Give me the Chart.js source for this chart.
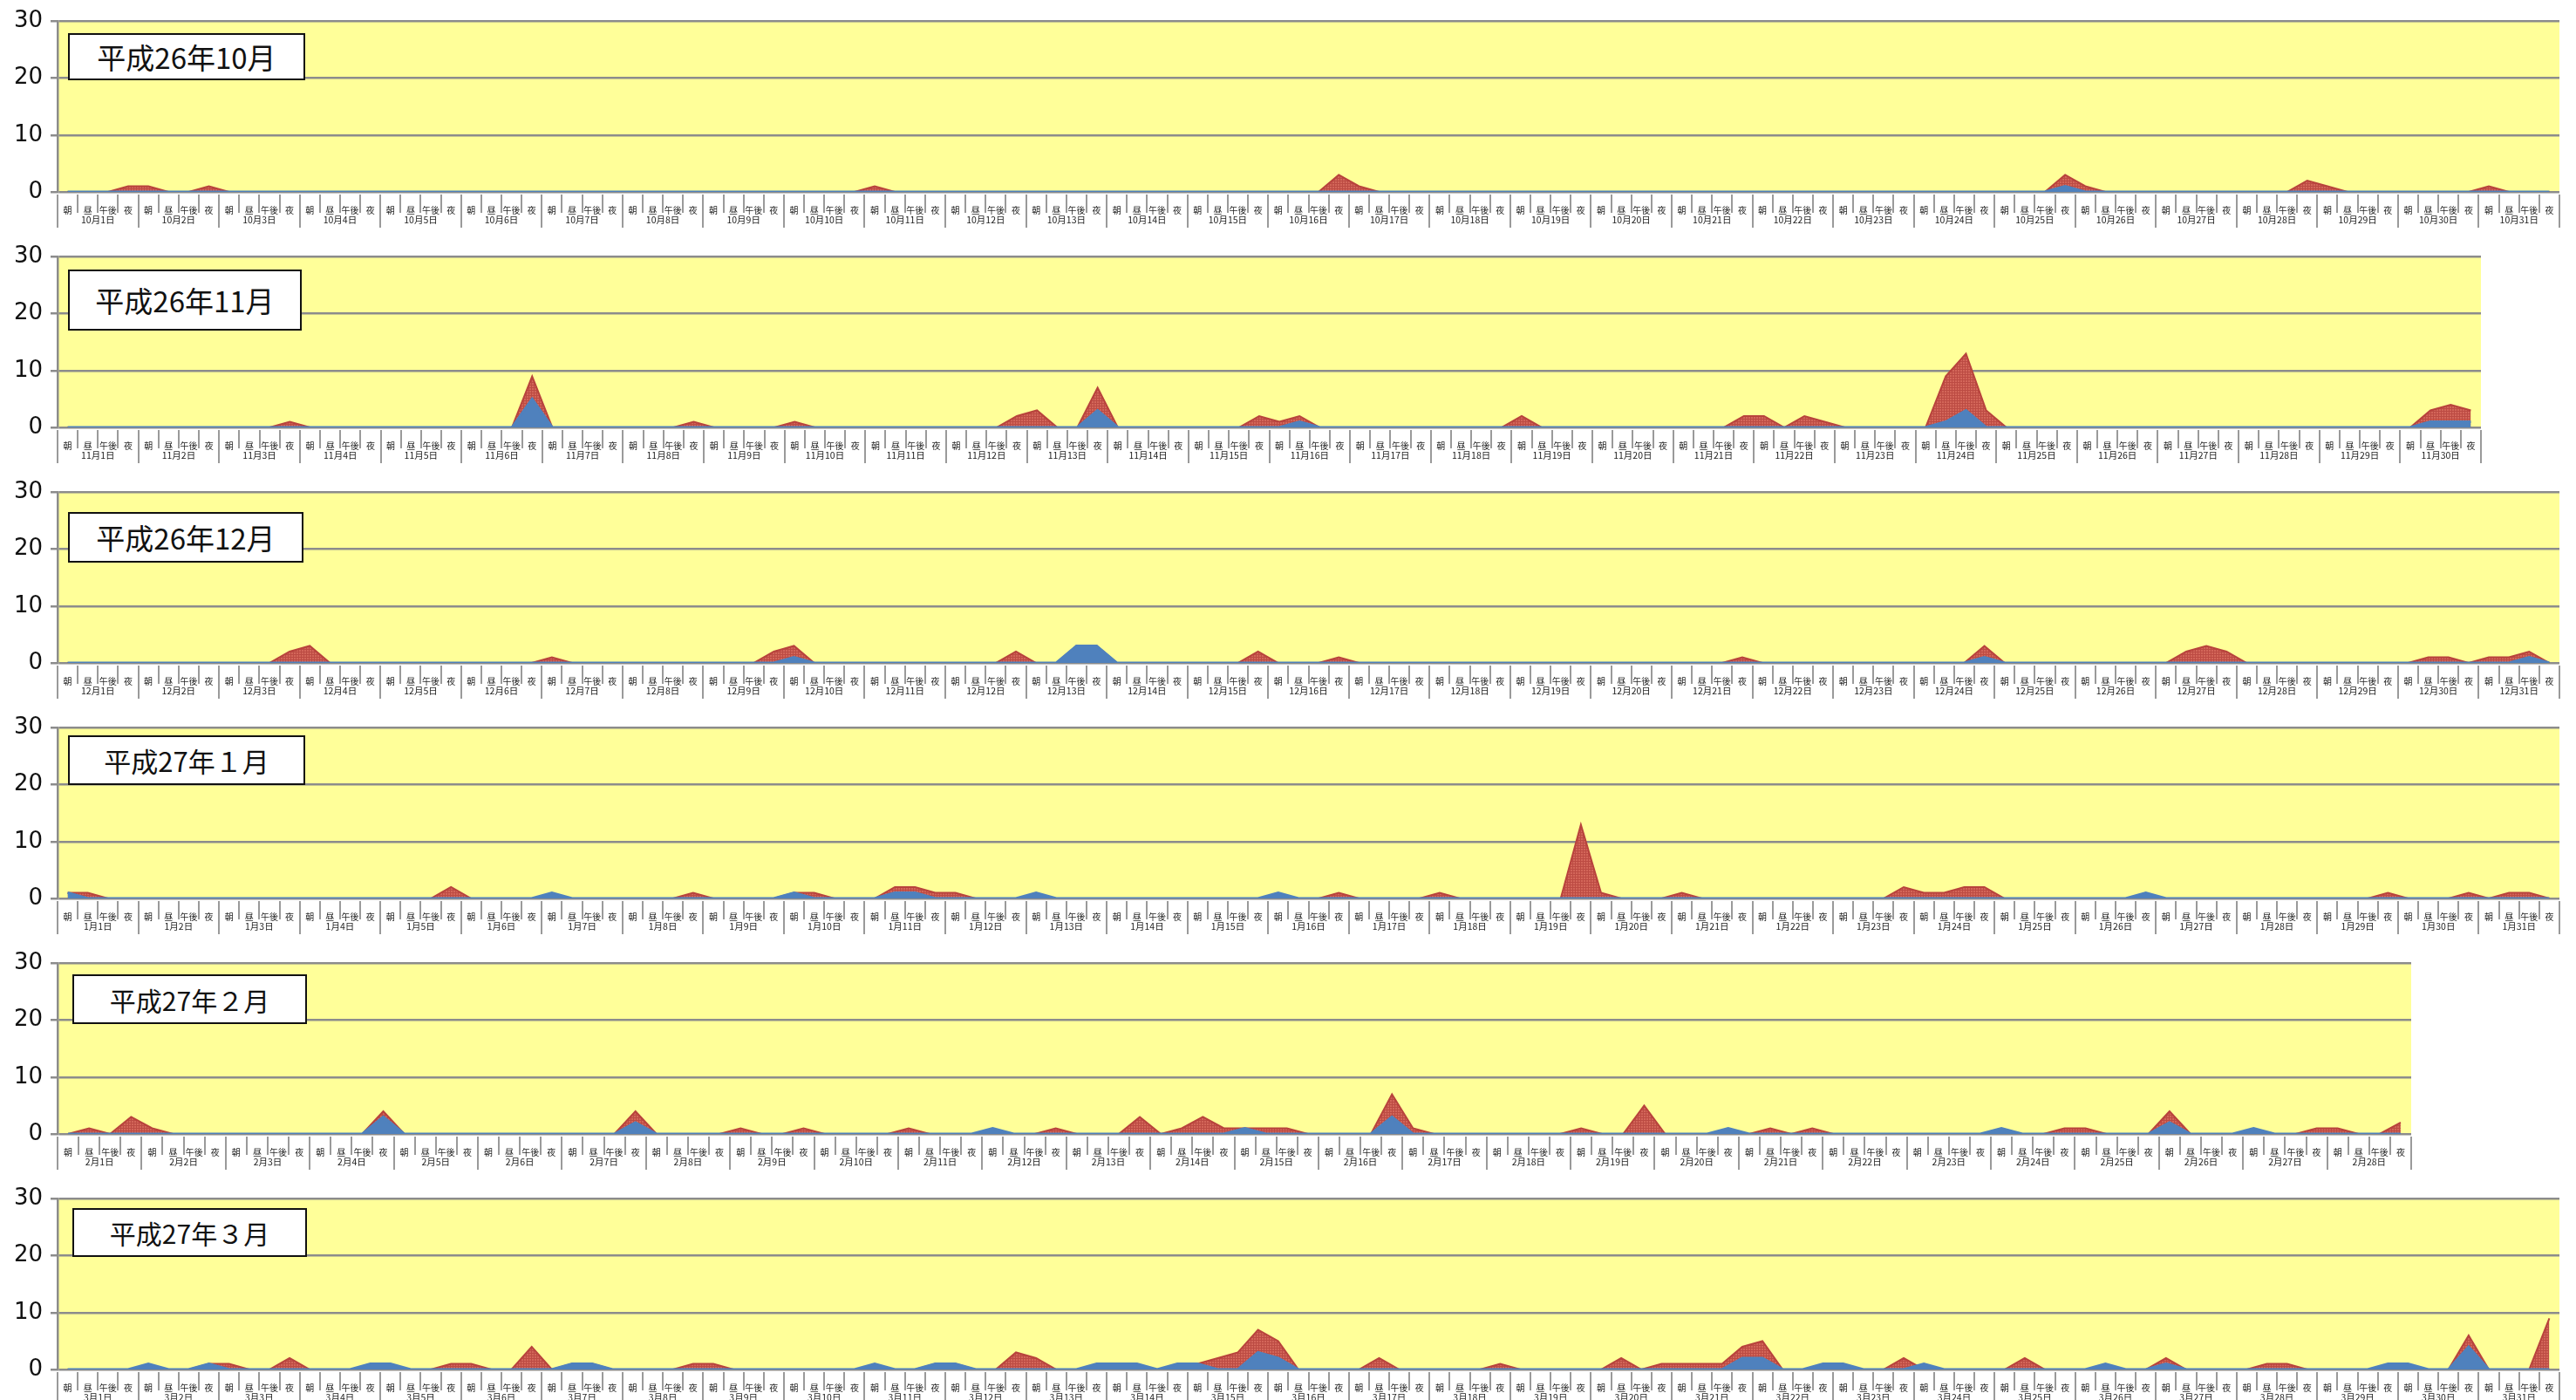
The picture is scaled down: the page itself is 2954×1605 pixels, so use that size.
<!DOCTYPE html>
<html>
<head>
<meta charset="utf-8">
<script src="https://cdn.jsdelivr.net/npm/chart.js@4.4.1/dist/chart.umd.min.js"></script>
<style>
body { margin: 0; background: #fff; width: 2954px; height: 1605px; position: relative; overflow: hidden; font-family: "Noto Sans CJK JP", sans-serif; }
canvas { position: absolute; left: 0; }
.title { position: absolute; background: #fff; border: 2px solid #111; box-sizing: border-box; display: flex; align-items: center; justify-content: center; color: #111; }
</style>
</head>
<body>
<script>
const slotNames = ['朝', '昼', '午後', '夜'];
const monthTitles = ['平成26年10月', '平成26年11月', '平成26年12月', '平成27年１月', '平成27年２月', '平成27年３月'];
const monthNums = [10, 11, 12, 1, 2, 3];
const dayCounts = [31, 30, 31, 31, 28, 31];
const yTicks = [0, 10, 20, 30];

// 朝,昼,午後,夜 per day
const octRed = [
    0,0,0,1, 1,0,0,1, 0,0,0,0, 0,0,0,0,
    0,0,0,0, 0,0,0,0, 0,0,0,0, 0,0,0,0,
    0,0,0,0, 0,0,0,0, 1,0,0,0, 0,0,0,0,
    0,0,0,0, 0,0,0,0, 0,0,0,0, 0,0,0,3,
    1,0,0,0, 0,0,0,0, 0,0,0,0, 0,0,0,0,
    0,0,0,0, 0,0,0,0, 0,0,0,0, 0,0,0,0,
    0,0,0,3, 1,0,0,0, 0,0,0,0, 0,0,0,2,
    1,0,0,0, 0,0,0,0, 1,0,0,0
];
const octBlue = [
    0,0,0,0, 0,0,0,0, 0,0,0,0, 0,0,0,0,
    0,0,0,0, 0,0,0,0, 0,0,0,0, 0,0,0,0,
    0,0,0,0, 0,0,0,0, 0,0,0,0, 0,0,0,0,
    0,0,0,0, 0,0,0,0, 0,0,0,0, 0,0,0,0,
    0,0,0,0, 0,0,0,0, 0,0,0,0, 0,0,0,0,
    0,0,0,0, 0,0,0,0, 0,0,0,0, 0,0,0,0,
    0,0,0,1, 0,0,0,0, 0,0,0,0, 0,0,0,0,
    0,0,0,0, 0,0,0,0, 0,0,0,0
];
const novRed = [
    0,0,0,0, 0,0,0,0, 0,0,0,1, 0,0,0,0,
    0,0,0,0, 0,0,0,9, 0,0,0,0, 0,0,0,1,
    0,0,0,0, 1,0,0,0, 0,0,0,0, 0,0,0,2,
    3,0,0,7, 0,0,0,0, 0,0,0,2, 1,2,0,0,
    0,0,0,0, 0,0,0,0, 2,0,0,0, 0,0,0,0,
    0,0,0,2, 2,0,2,1, 0,0,0,0, 0,9,13,3,
    0,0,0,0, 0,0,0,0, 0,0,0,0, 0,0,0,0,
    0,0,0,0, 0,3,4,3
];
const novBlue = [
    0,0,0,0, 0,0,0,0, 0,0,0,0, 0,0,0,0,
    0,0,0,0, 0,0,0,5, 0,0,0,0, 0,0,0,0,
    0,0,0,0, 0,0,0,0, 0,0,0,0, 0,0,0,0,
    0,0,0,3, 0,0,0,0, 0,0,0,0, 0,1,0,0,
    0,0,0,0, 0,0,0,0, 0,0,0,0, 0,0,0,0,
    0,0,0,0, 0,0,0,0, 0,0,0,0, 0,1,3,0,
    0,0,0,0, 0,0,0,0, 0,0,0,0, 0,0,0,0,
    0,0,0,0, 0,1,1,1
];
const decRed = [
    0,0,0,0, 0,0,0,0, 0,0,0,2, 3,0,0,0,
    0,0,0,0, 0,0,0,0, 1,0,0,0, 0,0,0,0,
    0,0,0,2, 3,0,0,0, 0,0,0,0, 0,0,0,2,
    0,0,3,3, 0,0,0,0, 0,0,0,2, 0,0,0,1,
    0,0,0,0, 0,0,0,0, 0,0,0,0, 0,0,0,0,
    0,0,0,1, 0,0,0,0, 0,0,0,0, 0,0,0,3,
    0,0,0,0, 0,0,0,0, 0,2,3,2, 0,0,0,0,
    0,0,0,0, 0,1,1,0, 1,1,2,0
];
const decBlue = [
    0,0,0,0, 0,0,0,0, 0,0,0,0, 0,0,0,0,
    0,0,0,0, 0,0,0,0, 0,0,0,0, 0,0,0,0,
    0,0,0,0, 1,0,0,0, 0,0,0,0, 0,0,0,0,
    0,0,3,3, 0,0,0,0, 0,0,0,0, 0,0,0,0,
    0,0,0,0, 0,0,0,0, 0,0,0,0, 0,0,0,0,
    0,0,0,0, 0,0,0,0, 0,0,0,0, 0,0,0,1,
    0,0,0,0, 0,0,0,0, 0,0,0,0, 0,0,0,0,
    0,0,0,0, 0,0,0,0, 0,0,1,0
];
const janRed = [
    1,1,0,0, 0,0,0,0, 0,0,0,0, 0,0,0,0,
    0,0,0,2, 0,0,0,0, 0,0,0,0, 0,0,0,1,
    0,0,0,0, 1,1,0,0, 0,2,2,1, 1,0,0,0,
    0,0,0,0, 0,0,0,0, 0,0,0,0, 0,0,0,1,
    0,0,0,0, 1,0,0,0, 0,0,0,13, 1,0,0,0,
    1,0,0,0, 0,0,0,0, 0,0,0,2, 1,1,2,2,
    0,0,0,0, 0,0,0,0, 0,0,0,0, 0,0,0,0,
    0,0,0,1, 0,0,0,1, 0,1,1,0
];
const janBlue = [
    1,0,0,0, 0,0,0,0, 0,0,0,0, 0,0,0,0,
    0,0,0,0, 0,0,0,0, 1,0,0,0, 0,0,0,0,
    0,0,0,0, 1,0,0,0, 0,1,1,0, 0,0,0,0,
    1,0,0,0, 0,0,0,0, 0,0,0,0, 1,0,0,0,
    0,0,0,0, 0,0,0,0, 0,0,0,0, 0,0,0,0,
    0,0,0,0, 0,0,0,0, 0,0,0,0, 0,0,0,0,
    0,0,0,0, 0,0,0,1, 0,0,0,0, 0,0,0,0,
    0,0,0,0, 0,0,0,0, 0,0,0,0
];
const febRed = [
    0,1,0,3, 1,0,0,0, 0,0,0,0, 0,0,0,4,
    0,0,0,0, 0,0,0,0, 0,0,0,4, 0,0,0,0,
    1,0,0,1, 0,0,0,0, 1,0,0,0, 0,0,0,1,
    0,0,0,3, 0,1,3,1, 1,1,1,0, 0,0,0,7,
    1,0,0,0, 0,0,0,0, 1,0,0,5, 0,0,0,0,
    0,1,0,1, 0,0,0,0, 0,0,0,0, 0,0,0,1,
    1,0,0,0, 4,0,0,0, 0,0,0,1, 1,0,0,2
];
const febBlue = [
    0,0,0,0, 0,0,0,0, 0,0,0,0, 0,0,0,3,
    0,0,0,0, 0,0,0,0, 0,0,0,2, 0,0,0,0,
    0,0,0,0, 0,0,0,0, 0,0,0,0, 1,0,0,0,
    0,0,0,0, 0,0,0,0, 1,0,0,0, 0,0,0,3,
    0,0,0,0, 0,0,0,0, 0,0,0,0, 0,0,0,1,
    0,0,0,0, 0,0,0,0, 0,0,0,0, 1,0,0,0,
    0,0,0,0, 2,0,0,0, 1,0,0,0, 0,0,0,0
];
const marRed = [
    0,0,0,0, 0,0,0,1, 1,0,0,2, 0,0,0,0,
    0,0,0,1, 1,0,0,4, 0,1,1,0, 0,0,0,1,
    1,0,0,0, 0,0,0,0, 0,0,0,1, 1,0,0,3,
    2,0,0,0, 0,0,0,0, 1,2,3,7, 5,0,0,0,
    0,2,0,0, 0,0,0,1, 0,0,0,0, 0,2,0,1,
    1,1,1,4, 5,0,0,0, 0,0,0,2, 0,0,0,0,
    0,2,0,0, 0,0,0,0, 2,0,0,0, 0,1,1,0,
    0,0,0,0, 0,0,0,6, 0,0,0,9
];
const marBlue = [
    0,0,0,0, 1,0,0,1, 0,0,0,0, 0,0,0,1,
    1,0,0,0, 0,0,0,0, 0,1,1,0, 0,0,0,0,
    0,0,0,0, 0,0,0,0, 1,0,0,1, 1,0,0,0,
    0,0,0,1, 1,1,0,1, 1,0,0,3, 2,0,0,0,
    0,0,0,0, 0,0,0,0, 0,0,0,0, 0,0,0,0,
    0,0,0,2, 2,0,0,1, 1,0,0,0, 1,0,0,0,
    0,0,0,0, 0,1,0,0, 1,0,0,0, 0,0,0,0,
    0,0,0,1, 1,0,0,4, 0,0,0,0
];

const redSeries = [octRed, novRed, decRed, janRed, febRed, marRed];
const blueSeries = [octBlue, novBlue, decBlue, janBlue, febBlue, marBlue];

// layout of each panel (px)
const PANEL_PITCH = 270;
const plotRights = [2935, 2845, 2935, 2935, 2765, 2935];
const titleBoxes = [
    { left: 78, top: 38, width: 272, height: 54, size: 33 },
    { left: 78, top: 309, width: 268, height: 70, size: 33 },
    { left: 78, top: 587, width: 270, height: 58, size: 33 },
    { left: 78, top: 843, width: 272, height: 57, size: 31 },
    { left: 83, top: 1117, width: 269, height: 57, size: 30 },
    { left: 83, top: 1385, width: 269, height: 56, size: 30 },
];

function makeRedPattern() {
    const c = document.createElement('canvas');
    c.width = 3; c.height = 3;
    const g = c.getContext('2d');
    g.fillStyle = '#D36659';
    g.fillRect(0, 0, 3, 3);
    g.fillStyle = '#BC4B43';
    g.fillRect(0, 0, 3, 1);
    g.fillRect(0, 0, 1, 3);
    return g.createPattern(c, 'repeat');
}

const plotBackground = {
    id: 'plotBackground',
    beforeDraw(chart) {
        const { ctx, chartArea: a } = chart;
        ctx.save();
        ctx.fillStyle = '#FFFF99';
        ctx.fillRect(a.left, a.top, a.right - a.left, a.bottom - a.top);
        ctx.restore();
    }
};

// second row of the category axis: day labels and separators
const dayAxis = {
    id: 'dayAxis',
    afterDraw(chart, args, opts) {
        const xs = chart.scales.x;
        const ctx = chart.ctx;
        const n = chart.data.labels.length;
        const w = xs.getPixelForValue(1) - xs.getPixelForValue(0);
        const y0 = chart.chartArea.bottom;
        ctx.save();
        ctx.strokeStyle = '#9a9a9a';
        ctx.lineWidth = 2;
        for (let i = 0; i <= n; i++) {
            const x = Math.round(xs.getPixelForValue(Math.min(i, n - 1)) + (i < n ? -w / 2 : w / 2));
            ctx.beginPath();
            ctx.moveTo(x, y0 + 3);
            ctx.lineTo(x, i % 4 === 0 ? y0 + 41 : y0 + 24);
            ctx.stroke();
        }
        ctx.fillStyle = '#222';
        ctx.font = '10.5px "Noto Sans CJK JP"';
        ctx.textAlign = 'center';
        ctx.textBaseline = 'middle';
        for (let d = 0; d < n / 4; d++) {
            const cx = (xs.getPixelForValue(d * 4) + xs.getPixelForValue(d * 4 + 3)) / 2;
            ctx.fillText(opts.month + '月' + (d + 1) + '日', cx, y0 + 32);
        }
        ctx.restore();
    }
};

function buildPanel(i) {
    const canvas = document.createElement('canvas');
    canvas.width = plotRights[i] + 12;
    canvas.height = 268;
    canvas.style.top = (i * PANEL_PITCH) + 'px';
    document.body.appendChild(canvas);

    const labels = [];
    for (let d = 0; d < dayCounts[i]; d++) {
        for (const s of slotNames) labels.push(s);
    }

    new Chart(canvas, {
        type: 'line',
        data: {
            labels: labels,
            datasets: [
                {
                    data: blueSeries[i],
                    backgroundColor: '#4F81BD',
                    borderColor: '#4F81BD',
                    borderWidth: 3,
                    fill: 'origin',
                    order: 0,
                },
                {
                    data: redSeries[i],
                    backgroundColor: makeRedPattern(),
                    borderColor: '#B8433C',
                    borderWidth: 2,
                    fill: 'origin',
                    order: 1,
                },
            ],
        },
        options: {
            responsive: false,
            animation: false,
            devicePixelRatio: 1,
            layout: { padding: { top: 19, right: 12, left: 0, bottom: 0 } },
            elements: { point: { radius: 0 }, line: { tension: 0 } },
            plugins: {
                legend: { display: false },
                tooltip: { enabled: false },
                dayAxis: { month: monthNums[i] },
            },
            scales: {
                x: {
                    offset: true,
                    grid: { display: false },
                    border: { display: false },
                    ticks: {
                        autoSkip: false,
                        maxRotation: 0,
                        minRotation: 0,
                        padding: 7,
                        color: '#222',
                        font: { size: 10, family: '"Noto Sans CJK JP"' },
                    },
                    afterFit(s) { s.height = 48; },
                },
                y: {
                    min: 0,
                    max: 30,
                    afterBuildTicks(s) { s.ticks = yTicks.map(v => ({ value: v })); },
                    ticks: {
                        padding: 9,
                        color: '#111',
                        font: { size: 26, family: '"DejaVu Sans"' },
                    },
                    grid: { color: '#8c8c8c', lineWidth: 2.5, tickLength: 8 },
                    border: { color: '#8c8c8c', width: 2.5 },
                    afterFit(s) { s.width = 66; },
                },
            },
        },
        plugins: [plotBackground, dayAxis],
    });

    const t = titleBoxes[i];
    const box = document.createElement('div');
    box.className = 'title';
    box.style.left = t.left + 'px';
    box.style.top = t.top + 'px';
    box.style.width = t.width + 'px';
    box.style.height = t.height + 'px';
    box.style.fontSize = t.size + 'px';
    box.textContent = monthTitles[i];
    document.body.appendChild(box);
}

for (let i = 0; i < monthTitles.length; i++) buildPanel(i);
</script>
</body>
</html>
